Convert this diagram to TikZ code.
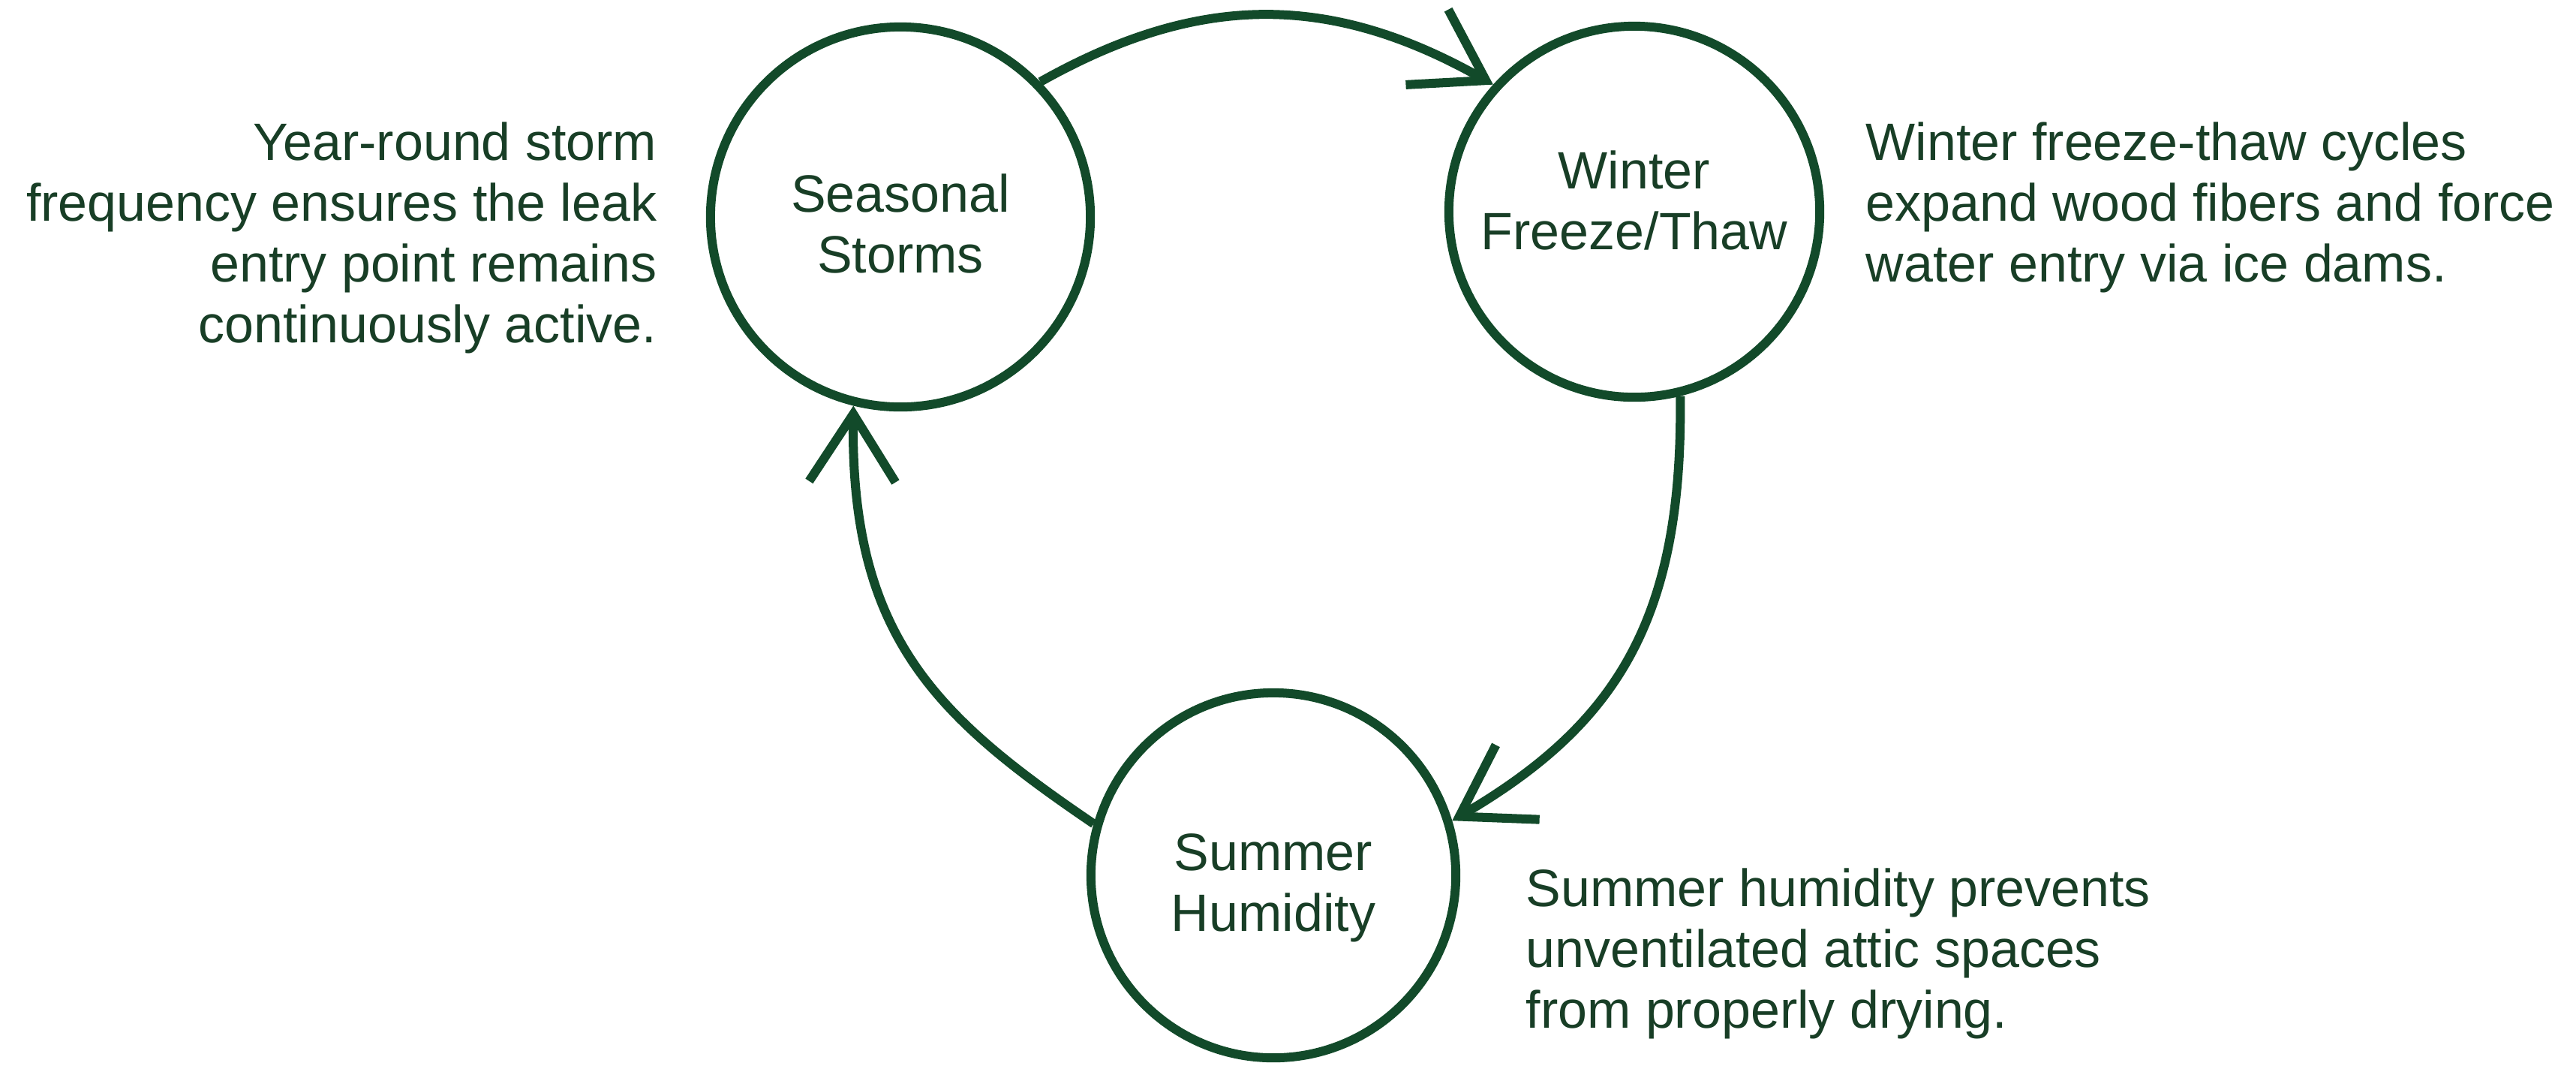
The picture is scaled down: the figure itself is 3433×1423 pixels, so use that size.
\documentclass[tikz,border=0pt]{standalone}
\usepackage{fontspec}
\setmainfont{Liberation Sans}
\usetikzlibrary{arrows.meta}
\definecolor{cyclegreen}{RGB}{18,74,42}
\definecolor{textgreen}{RGB}{24,62,38}
\begin{document}
\begin{tikzpicture}[x=0.01cm,y=-0.01cm,
  stage/.style={circle, draw=cyclegreen, line width=0.12cm, inner sep=0pt},
  stagetext/.style={inner sep=0pt, text=textgreen, align=center, font=\fontsize{19.9pt}{23pt}\selectfont},
  note/.style={inner sep=0pt, text=textgreen, font=\fontsize{19.9pt}{23pt}\selectfont},
  flow/.style={draw=cyclegreen, line width=0.12cm, line join=miter, -{Straight Barb[length=0.9cm,width=1.15cm]}}
]
\useasboundingbox[fill=white] (0,0) rectangle (3433,1423);
\node[stage, minimum size=5.06cm] (S) at (1200,289) {};
\node[stage, minimum size=4.94cm] (W) at (2178,282) {};
\node[stage, minimum size=4.86cm] (H) at (1697,1166) {};
\node[stagetext] (St) at (1200,298) {Seasonal\\Storms};
\node[stagetext] (Wt) at (2178,267) {Winter\\Freeze/Thaw};
\node[stagetext] (Ht) at (1697,1183) {Summer\\Humidity};
\node[note, anchor=north east, align=right] (nS) at (876,162) {Year-round storm\\frequency ensures the leak\\entry point remains\\continuously active.};
\node[note, anchor=north west, align=left] (nW) at (2486,162) {Winter freeze-thaw cycles\\expand wood fibers and force\\water entry via ice dams.};
\node[note, anchor=north west, align=left] (nH) at (2033,1156) {Summer humidity prevents\\unventilated attic spaces\\from properly drying.};
\draw[flow] (S.44) .. controls (1598,-10) and (1773,-10) .. (W.138);
\draw[flow] (W.-76) .. controls (2243,826) and (2154,965) .. (H.17.6);
\draw[flow] (H.164) .. controls (1248,955) and (1133,848) .. (S.-104);
\end{tikzpicture}
\end{document}
